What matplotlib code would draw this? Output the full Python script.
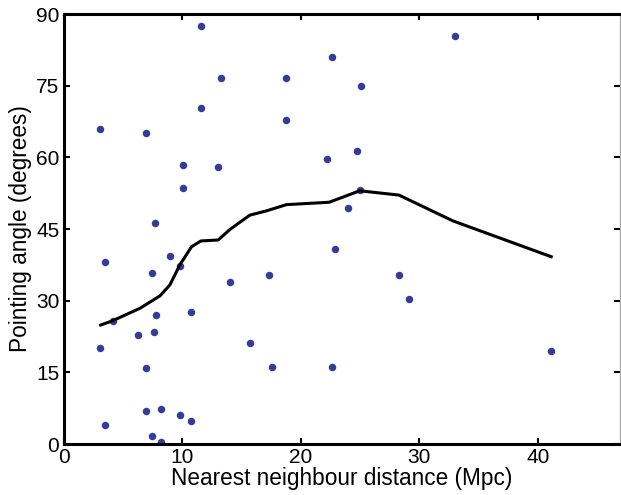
import matplotlib
matplotlib.use("Agg")
import matplotlib.pyplot as plt

plt.rcParams['font.family'] = ['Liberation Sans', 'DejaVu Sans']

# Galaxies: nearest neighbour distance (Mpc) and pointing angle (degrees)
nn_distance = [
    11.58, 13.27, 18.8, 11.58, 18.8, 3.05, 6.98, 10.1, 12.99, 10.1, 7.68,
    3.47, 8.97, 9.79, 7.48, 17.29, 14.05, 10.77, 7.79, 4.17, 7.65, 6.28,
    3.05, 15.69, 6.95, 17.59, 3.47, 6.95, 8.19, 9.79, 10.77, 7.48, 8.19,
    33.0, 22.62, 25.09, 24.78, 22.23, 24.98, 23.99, 22.87,
    28.29, 29.1, 41.15, 22.62,
]
pointing_angle = [
    87.4, 76.7, 76.6, 70.3, 67.9, 66.0, 65.0, 58.5, 57.9, 53.5, 46.3,
    38.0, 39.3, 37.3, 35.8, 35.4, 34.0, 27.6, 26.9, 25.8, 23.5, 22.8,
    20.2, 21.1, 15.9, 16.1, 4.0, 7.0, 7.3, 6.1, 4.8, 1.6, 0.4,
    85.5, 80.9, 74.9, 61.3, 59.7, 53.1, 49.3, 40.9,
    35.4, 30.3, 19.5, 16.1,
]

# Running mean of the pointing angle
trend_x = [3.13, 4.14, 6.44, 8.13, 8.97, 9.81, 10.8, 11.58, 13.04, 14.03,
           15.71, 17.12, 18.8, 22.4, 24.98, 28.29, 32.84, 41.13]
trend_y = [24.9, 25.8, 28.4, 31.0, 33.3, 37.5, 41.3, 42.5, 42.7, 44.9,
           47.9, 48.8, 50.1, 50.6, 53.0, 52.1, 46.7, 39.2]

x_ticks = [0, 10, 20, 30, 40]
y_ticks = [0, 15, 30, 45, 60, 75, 90]

fig = plt.figure(figsize=(6.21, 4.95), dpi=100)
ax = fig.add_axes([0.1023, 0.103, 0.8955, 0.8687])

ax.plot(nn_distance, pointing_angle, 'o', color='#333d99', markersize=5.4,
        markeredgewidth=0, zorder=2)
ax.plot(trend_x, trend_y, '-', color='black', linewidth=2.2, zorder=3)

ax.set_xlim(0, 46.9)
ax.set_ylim(0, 90)
ax.set_xticks(x_ticks)
ax.set_yticks(y_ticks)

for side in ('left', 'bottom', 'top'):
    ax.spines[side].set_linewidth(2.2)
    ax.spines[side].set_color('black')
ax.spines['right'].set_linewidth(1.0)
ax.spines['right'].set_color('#aaaaaa')

ax.tick_params(direction='in', length=4, width=1.5, top=True, right=True,
               labelsize=15, pad=3, colors='black')

ax.set_xlabel('Nearest neighbour distance (Mpc)', fontsize=16.3, labelpad=0)
ax.set_ylabel('Pointing angle (degrees)', fontsize=16.3, labelpad=3)

fig.savefig('out.png', dpi=100)
